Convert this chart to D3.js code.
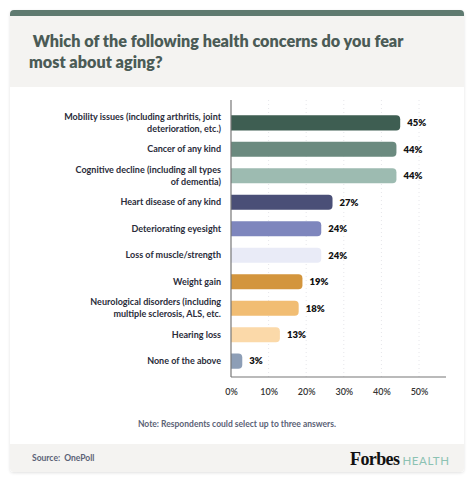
<!DOCTYPE html>
<html><head><meta charset="utf-8">
<script src="https://cdn.jsdelivr.net/npm/d3@7"></script>
<style>
html,body{margin:0;padding:0;background:#fff;}
svg{display:block;}
</style></head>
<body>
<svg id="chart" width="474" height="482"></svg>
<script>
const categories = [
  ["Mobility issues (including arthritis, joint", "deterioration, etc.)"],
  ["Cancer of any kind"],
  ["Cognitive decline (including all types", "of dementia)"],
  ["Heart disease of any kind"],
  ["Deteriorating eyesight"],
  ["Loss of muscle/strength"],
  ["Weight gain"],
  ["Neurological disorders (including", "multiple sclerosis, ALS, etc."],
  ["Hearing loss"],
  ["None of the above"]
];
const values = [45, 44, 44, 27, 24, 24, 19, 18, 13, 3];
const colors = ["#3e5e52","#6b8a7f","#9dbbb1","#4a4f77","#7e86bd","#e9ebf7","#d3953d","#f1bd73","#fbd9a9","#8d9eb6"];
const tickValues = [0, 10, 20, 30, 40, 50];
const title = [" Which of the following health concerns do you fear", "most about aging?"];
const note = "Note: Respondents could select up to three answers.";
const source = "Source:  OnePoll";

const svg = d3.select("#chart");
const font = "Lato, 'Open Sans', sans-serif";

// drop shadow
const defs = svg.append("defs");
const f = defs.append("filter").attr("id","sh").attr("x","-5%").attr("y","-5%").attr("width","110%").attr("height","110%");
f.append("feDropShadow").attr("dx",0).attr("dy",1).attr("stdDeviation",1.5).attr("flood-color","#000").attr("flood-opacity",0.12);

// card
svg.append("rect").attr("x",10).attr("y",10).attr("width",454).attr("height",462).attr("rx",4)
  .attr("fill","#fff").attr("filter","url(#sh)");
// top bar
svg.append("path").attr("d","M10,16 V14 a4,4 0 0 1 4,-4 H460 a4,4 0 0 1 4,4 V16 Z").attr("fill","#5f7a70");
// header bg
svg.append("rect").attr("x",10).attr("y",16).attr("width",454).attr("height",71).attr("fill","#f4f3f1");
// footer bg
svg.append("path").attr("d","M10,444 H464 V468 a4,4 0 0 1 -4,4 H14 a4,4 0 0 1 -4,-4 Z").attr("fill","#f4f3f1");

// title
svg.append("text").attr("font-family",font).attr("font-weight",800).attr("font-size",16.2)
  .attr("fill","#4b5b56")
  .selectAll("tspan").data(title).join("tspan")
  .attr("x",29).attr("y",(d,i)=>47+i*21).attr("xml:space","preserve").text(d=>d);

// scales
const x = d3.scaleLinear().domain([0,50]).range([231,419]);
const y = d3.scaleBand().domain(d3.range(values.length)).range([110,374]).paddingInner(0.43).paddingOuter(0.2);

// gridlines
svg.append("g").selectAll("line").data(tickValues.slice(1)).join("line")
  .attr("x1",d=>x(d)).attr("x2",d=>x(d)).attr("y1",100).attr("y2",377)
  .attr("stroke","#e6e6ea").attr("stroke-width",1).attr("stroke-dasharray","1,3");

// bars
const bh = y.bandwidth();
svg.append("g").selectAll("path").data(values).join("path")
  .attr("d",(d,i)=>{
    const x0 = x(0), x1 = x(d), y0 = y(i), r = Math.min(4, (x1-x0));
    return `M${x0},${y0} H${x1-r} a${r},${r} 0 0 1 ${r},${r} V${y0+bh-r} a${r},${r} 0 0 1 ${-r},${r} H${x0} Z`;
  })
  .attr("fill",(d,i)=>colors[i]);

// value labels
svg.append("g").selectAll("text").data(values).join("text")
  .attr("x",d=>x(d)+7).attr("y",(d,i)=>y(i)+bh/2).attr("dy","0.35em")
  .attr("font-family",font).attr("font-weight",800).attr("font-size",9.5).attr("fill","#111")
  .text(d=>d+"%");

// category labels
const lab = svg.append("g");
categories.forEach((lines,i)=>{
  const cy = y(i)+bh/2;
  const lh = 12;
  const t = lab.append("text").attr("text-anchor","end").attr("font-family",font)
    .attr("font-weight",700).attr("font-size",9).attr("fill","#2a2c3a");
  lines.forEach((s,j)=>{
    t.append("tspan").attr("x",221).attr("y",cy + (j-(lines.length-1)/2)*lh).attr("dy","0.35em").text(s);
  });
});

// y axis line
svg.append("line").attr("x1",231).attr("x2",231).attr("y1",100).attr("y2",377).attr("stroke","#777").attr("stroke-width",1.2);
// x axis
const xAxis = d3.axisBottom(x).tickValues(tickValues).tickFormat(d=>d+"%").tickSize(0).tickPadding(12);
const gx = svg.append("g").attr("transform","translate(0,377)").call(xAxis);
gx.select(".domain").remove();
gx.selectAll("text").attr("font-family",font).attr("font-weight",600).attr("font-size",9).attr("fill","#333");
svg.append("line").attr("x1",231).attr("x2",446).attr("y1",377).attr("y2",377).attr("stroke","#777").attr("stroke-width",1.2);

// note
svg.append("text").attr("x",237).attr("y",427).attr("text-anchor","middle")
  .attr("font-family",font).attr("font-weight",700).attr("font-size",8.5).attr("fill","#5b6276").text(note);

// source
svg.append("text").attr("x",32).attr("y",461).attr("font-family",font).attr("font-weight",700)
  .attr("font-size",8.5).attr("fill","#5b6276").attr("xml:space","preserve").text(source);

// Forbes Health
const fb = svg.append("text").attr("x",350).attr("y",465);
fb.append("tspan").attr("font-family","'Liberation Serif', 'DejaVu Serif', serif").attr("font-weight",700)
  .attr("font-size",18).attr("fill","#111").attr("letter-spacing",-0.6).text("Forbes");
fb.append("tspan").attr("dx",3).attr("font-family",font).attr("font-size",11.5).attr("fill","#8cc2b3").attr("letter-spacing",0.6).text("HEALTH");
</script>
</body></html>
